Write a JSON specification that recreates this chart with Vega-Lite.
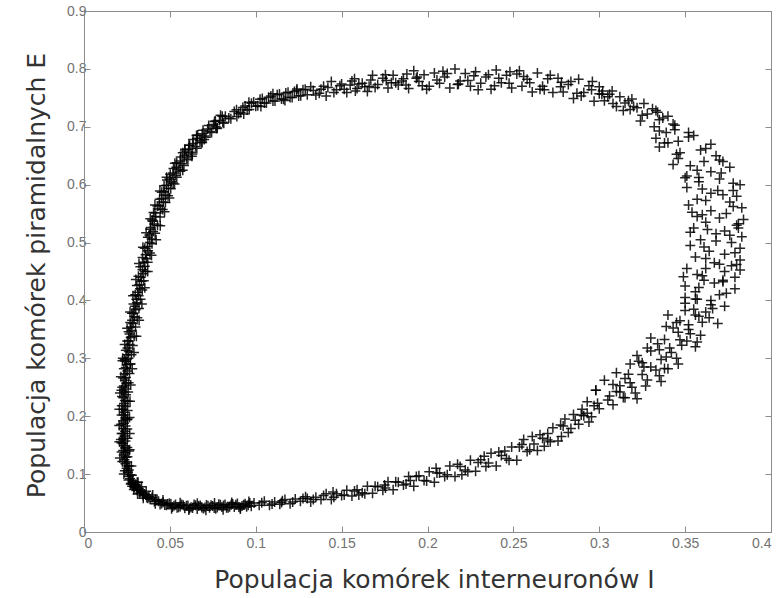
{
  "$schema": "https://vega.github.io/schema/vega-lite/v6.json",
  "width": 687,
  "height": 521,
  "autosize": {"type": "none"},
  "padding": {"left": 84, "top": 11, "right": 13, "bottom": 66},
  "background": "white",
  "config": {
    "view": {"stroke": null},
    "axis": {
      "grid": false,
      "domainColor": "#8c8c8c",
      "tickColor": "#8c8c8c",
      "tickSize": -6,
      "labelFont": "Liberation Sans",
      "labelFontSize": 14,
      "labelColor": "#727272",
      "titleFont": "DejaVu Sans",
      "titleFontSize": 25,
      "titleFontWeight": "normal",
      "titleColor": "#333333"
    }
  },
  "datasets": {
    "traj": [
      {"I":0.0290,"E":0.080},{"I":0.0275,"E":0.084},{"I":0.0282,"E":0.088},{"I":0.0268,"E":0.092},{"I":0.0262,"E":0.096},{"I":0.0271,"E":0.099},{"I":0.0255,"E":0.103},{"I":0.0261,"E":0.107},{"I":0.0248,"E":0.110},{"I":0.0252,"E":0.114},
      {"I":0.0241,"E":0.118},{"I":0.0249,"E":0.121},{"I":0.0236,"E":0.125},{"I":0.0244,"E":0.129},{"I":0.0231,"E":0.133},{"I":0.0240,"E":0.137},{"I":0.0228,"E":0.141},{"I":0.0238,"E":0.145},{"I":0.0233,"E":0.149},{"I":0.0226,"E":0.153},
      {"I":0.0241,"E":0.157},{"I":0.0230,"E":0.161},{"I":0.0236,"E":0.166},{"I":0.0225,"E":0.170},{"I":0.0239,"E":0.174},{"I":0.0229,"E":0.179},{"I":0.0242,"E":0.183},{"I":0.0232,"E":0.188},{"I":0.0227,"E":0.192},{"I":0.0240,"E":0.197},
      {"I":0.0231,"E":0.202},{"I":0.0237,"E":0.207},{"I":0.0226,"E":0.212},{"I":0.0243,"E":0.217},{"I":0.0233,"E":0.222},{"I":0.0238,"E":0.227},{"I":0.0229,"E":0.232},{"I":0.0245,"E":0.237},{"I":0.0235,"E":0.242},{"I":0.0241,"E":0.247},
      {"I":0.0232,"E":0.252},{"I":0.0247,"E":0.257},{"I":0.0238,"E":0.262},{"I":0.0244,"E":0.267},{"I":0.0236,"E":0.273},{"I":0.0252,"E":0.278},{"I":0.0243,"E":0.284},{"I":0.0249,"E":0.289},{"I":0.0241,"E":0.295},{"I":0.0258,"E":0.300},
      {"I":0.0250,"E":0.306},{"I":0.0261,"E":0.312},{"I":0.0253,"E":0.318},{"I":0.0266,"E":0.324},{"I":0.0259,"E":0.330},{"I":0.0272,"E":0.336},{"I":0.0265,"E":0.342},{"I":0.0279,"E":0.348},{"I":0.0273,"E":0.354},{"I":0.0286,"E":0.360},
      {"I":0.0280,"E":0.366},{"I":0.0293,"E":0.372},{"I":0.0288,"E":0.378},{"I":0.0301,"E":0.384},{"I":0.0296,"E":0.390},{"I":0.0309,"E":0.396},{"I":0.0305,"E":0.402},{"I":0.0318,"E":0.408},{"I":0.0313,"E":0.414},{"I":0.0326,"E":0.420},
      {"I":0.0322,"E":0.427},{"I":0.0335,"E":0.433},{"I":0.0331,"E":0.440},{"I":0.0344,"E":0.446},{"I":0.0340,"E":0.453},{"I":0.0354,"E":0.459},{"I":0.0349,"E":0.466},{"I":0.0363,"E":0.472},{"I":0.0359,"E":0.479},{"I":0.0373,"E":0.486},
      {"I":0.0369,"E":0.493},{"I":0.0383,"E":0.500},
      {"I":0.0215,"E":0.160},{"I":0.0254,"E":0.195},{"I":0.0218,"E":0.245},{"I":0.0262,"E":0.140},{"I":0.0270,"E":0.290},{"I":0.0226,"E":0.300},

      {"I":0.0301,"E":0.082},{"I":0.0259,"E":0.090},{"I":0.0279,"E":0.098},{"I":0.0238,"E":0.106},{"I":0.0262,"E":0.114},{"I":0.0223,"E":0.122},{"I":0.0253,"E":0.130},{"I":0.0219,"E":0.138},{"I":0.0252,"E":0.146},{"I":0.0218,"E":0.154},
      {"I":0.0253,"E":0.162},{"I":0.0219,"E":0.170},{"I":0.0252,"E":0.178},{"I":0.0217,"E":0.186},{"I":0.0251,"E":0.194},{"I":0.0219,"E":0.202},{"I":0.0254,"E":0.210},{"I":0.0220,"E":0.218},{"I":0.0255,"E":0.226},{"I":0.0221,"E":0.234},
      {"I":0.0257,"E":0.242},{"I":0.0223,"E":0.250},{"I":0.0260,"E":0.258},{"I":0.0228,"E":0.266},{"I":0.0265,"E":0.274},{"I":0.0232,"E":0.282},{"I":0.0270,"E":0.290},{"I":0.0237,"E":0.298},{"I":0.0276,"E":0.306},{"I":0.0244,"E":0.314},
      {"I":0.0284,"E":0.322},{"I":0.0252,"E":0.330},{"I":0.0292,"E":0.338},{"I":0.0260,"E":0.346},{"I":0.0300,"E":0.354},{"I":0.0269,"E":0.362},{"I":0.0310,"E":0.370},{"I":0.0279,"E":0.378},{"I":0.0320,"E":0.386},{"I":0.0288,"E":0.394},
      {"I":0.0329,"E":0.402},{"I":0.0298,"E":0.410},{"I":0.0339,"E":0.418},{"I":0.0308,"E":0.426},{"I":0.0348,"E":0.434},{"I":0.0317,"E":0.442},{"I":0.0358,"E":0.450},{"I":0.0328,"E":0.458},{"I":0.0371,"E":0.466},{"I":0.0341,"E":0.474},
      {"I":0.0384,"E":0.482},{"I":0.0354,"E":0.490},{"I":0.0396,"E":0.498},

      {"I":0.0310,"E":0.086},{"I":0.0232,"E":0.100},{"I":0.0276,"E":0.114},{"I":0.0209,"E":0.128},{"I":0.0266,"E":0.142},{"I":0.0206,"E":0.156},{"I":0.0266,"E":0.170},{"I":0.0205,"E":0.184},{"I":0.0265,"E":0.198},{"I":0.0206,"E":0.212},
      {"I":0.0268,"E":0.226},{"I":0.0209,"E":0.240},{"I":0.0272,"E":0.254},{"I":0.0215,"E":0.268},{"I":0.0281,"E":0.282},{"I":0.0224,"E":0.296},{"I":0.0291,"E":0.310},{"I":0.0237,"E":0.324},{"I":0.0305,"E":0.338},{"I":0.0251,"E":0.352},
      {"I":0.0321,"E":0.366},{"I":0.0268,"E":0.380},{"I":0.0337,"E":0.394},{"I":0.0285,"E":0.408},{"I":0.0354,"E":0.422},{"I":0.0302,"E":0.436},{"I":0.0371,"E":0.450},{"I":0.0320,"E":0.464},{"I":0.0393,"E":0.478},{"I":0.0343,"E":0.492},

      {"I":0.0394,"E":0.506},{"I":0.0381,"E":0.513},{"I":0.0402,"E":0.519},{"I":0.0389,"E":0.526},{"I":0.0409,"E":0.532},{"I":0.0397,"E":0.539},{"I":0.0418,"E":0.545},{"I":0.0405,"E":0.552},{"I":0.0447,"E":0.558},{"I":0.0437,"E":0.564},
      {"I":0.0462,"E":0.570},{"I":0.0452,"E":0.576},{"I":0.0476,"E":0.582},{"I":0.0466,"E":0.588},{"I":0.0492,"E":0.594},{"I":0.0480,"E":0.599},{"I":0.0508,"E":0.605},{"I":0.0497,"E":0.610},{"I":0.0531,"E":0.616},{"I":0.0518,"E":0.620},
      {"I":0.0552,"E":0.626},{"I":0.0538,"E":0.630},{"I":0.0572,"E":0.636},{"I":0.0560,"E":0.641},{"I":0.0597,"E":0.646},{"I":0.0585,"E":0.651},{"I":0.0623,"E":0.656},{"I":0.0609,"E":0.661},{"I":0.0649,"E":0.666},{"I":0.0634,"E":0.671},
      {"I":0.0675,"E":0.676},{"I":0.0658,"E":0.680},{"I":0.0701,"E":0.684},{"I":0.0688,"E":0.688},{"I":0.0734,"E":0.692},{"I":0.0720,"E":0.696},{"I":0.0767,"E":0.700},{"I":0.0754,"E":0.704},{"I":0.0808,"E":0.708},{"I":0.0789,"E":0.711},
      {"I":0.0843,"E":0.715},{"I":0.0823,"E":0.718},
      {"I":0.0875,"E":0.7265},{"I":0.0900,"E":0.7230},{"I":0.0925,"E":0.7335},{"I":0.0950,"E":0.7290},{"I":0.0975,"E":0.7405},{"I":0.1000,"E":0.7355},{"I":0.1025,"E":0.7475},{"I":0.1050,"E":0.7410},{"I":0.1075,"E":0.7510},{"I":0.1100,"E":0.7445},
      {"I":0.1125,"E":0.7555},{"I":0.1150,"E":0.7480},{"I":0.1175,"E":0.7585},{"I":0.1200,"E":0.7505},{"I":0.1225,"E":0.7610},{"I":0.1250,"E":0.7530},{"I":0.1275,"E":0.7640},{"I":0.1300,"E":0.7555},
      {"I":0.0615,"E":0.668},{"I":0.0700,"E":0.678},{"I":0.0795,"E":0.720},{"I":0.0930,"E":0.722},{"I":0.0575,"E":0.655},

      {"I":0.0372,"E":0.509},{"I":0.0414,"E":0.516},{"I":0.0386,"E":0.523},{"I":0.0428,"E":0.530},{"I":0.0399,"E":0.537},{"I":0.0443,"E":0.544},{"I":0.0413,"E":0.551},{"I":0.0458,"E":0.557},{"I":0.0427,"E":0.563},{"I":0.0474,"E":0.569},
      {"I":0.0440,"E":0.575},{"I":0.0489,"E":0.581},{"I":0.0453,"E":0.587},{"I":0.0505,"E":0.593},{"I":0.0466,"E":0.598},{"I":0.0519,"E":0.603},{"I":0.0483,"E":0.608},{"I":0.0540,"E":0.613},{"I":0.0502,"E":0.618},{"I":0.0561,"E":0.623},
      {"I":0.0521,"E":0.628},{"I":0.0582,"E":0.633},{"I":0.0540,"E":0.638},{"I":0.0605,"E":0.643},{"I":0.0563,"E":0.648},{"I":0.0631,"E":0.653},{"I":0.0587,"E":0.658},{"I":0.0657,"E":0.663},{"I":0.0611,"E":0.668},{"I":0.0683,"E":0.673},
      {"I":0.0635,"E":0.678},{"I":0.0710,"E":0.682},{"I":0.0662,"E":0.686},{"I":0.0743,"E":0.690},{"I":0.0693,"E":0.694},{"I":0.0776,"E":0.698},{"I":0.0726,"E":0.702},{"I":0.0814,"E":0.706},{"I":0.0765,"E":0.710},{"I":0.0855,"E":0.714},
      {"I":0.0805,"E":0.718},
      {"I":0.0888,"E":0.7295},{"I":0.0912,"E":0.7245},{"I":0.0938,"E":0.7360},{"I":0.0962,"E":0.7300},{"I":0.0988,"E":0.7430},{"I":0.1012,"E":0.7365},{"I":0.1038,"E":0.7490},{"I":0.1062,"E":0.7410},{"I":0.1088,"E":0.7530},{"I":0.1112,"E":0.7445},
      {"I":0.1138,"E":0.7565},{"I":0.1162,"E":0.7475},{"I":0.1188,"E":0.7595},{"I":0.1212,"E":0.7505},{"I":0.1238,"E":0.7625},{"I":0.1262,"E":0.7535},{"I":0.1288,"E":0.7650},

      {"I":0.0420,"E":0.505},{"I":0.0362,"E":0.517},{"I":0.0444,"E":0.529},{"I":0.0386,"E":0.541},{"I":0.0469,"E":0.553},{"I":0.0413,"E":0.565},{"I":0.0497,"E":0.577},{"I":0.0442,"E":0.589},{"I":0.0527,"E":0.601},{"I":0.0481,"E":0.613},
      {"I":0.0575,"E":0.625},{"I":0.0529,"E":0.637},{"I":0.0628,"E":0.649},{"I":0.0588,"E":0.661},{"I":0.0688,"E":0.673},{"I":0.0655,"E":0.685},{"I":0.0773,"E":0.697},{"I":0.0760,"E":0.709},
      {"I":0.0890,"E":0.7176},{"I":0.0960,"E":0.7424},{"I":0.1030,"E":0.7350},{"I":0.1100,"E":0.7570},{"I":0.1170,"E":0.7452},{"I":0.1240,"E":0.7654},

      {"I":0.132,"E":0.769},{"I":0.135,"E":0.755},{"I":0.138,"E":0.765},{"I":0.141,"E":0.753},{"I":0.144,"E":0.778},{"I":0.147,"E":0.764},{"I":0.150,"E":0.774},{"I":0.153,"E":0.759},{"I":0.156,"E":0.779},{"I":0.159,"E":0.766},
      {"I":0.162,"E":0.775},{"I":0.165,"E":0.761},{"I":0.168,"E":0.789},{"I":0.171,"E":0.773},{"I":0.174,"E":0.784},{"I":0.177,"E":0.767},{"I":0.180,"E":0.789},{"I":0.183,"E":0.772},{"I":0.186,"E":0.783},{"I":0.189,"E":0.766},
      {"I":0.192,"E":0.797},{"I":0.195,"E":0.778},{"I":0.198,"E":0.790},{"I":0.201,"E":0.770},{"I":0.204,"E":0.793},{"I":0.207,"E":0.775},{"I":0.210,"E":0.786},{"I":0.213,"E":0.767},{"I":0.216,"E":0.800},{"I":0.219,"E":0.779},
      {"I":0.222,"E":0.792},{"I":0.225,"E":0.770},{"I":0.228,"E":0.795},{"I":0.231,"E":0.775},{"I":0.234,"E":0.786},{"I":0.237,"E":0.765},{"I":0.240,"E":0.798},{"I":0.243,"E":0.776},{"I":0.246,"E":0.789},{"I":0.249,"E":0.767},
      {"I":0.252,"E":0.791},{"I":0.255,"E":0.770},{"I":0.258,"E":0.782},{"I":0.261,"E":0.760},{"I":0.264,"E":0.793},{"I":0.267,"E":0.770},{"I":0.270,"E":0.783},{"I":0.273,"E":0.759},{"I":0.276,"E":0.784},{"I":0.279,"E":0.760},
      {"I":0.282,"E":0.773},{"I":0.285,"E":0.749},{"I":0.288,"E":0.782},{"I":0.291,"E":0.759},{"I":0.294,"E":0.771},{"I":0.297,"E":0.744},{"I":0.300,"E":0.769},{"I":0.303,"E":0.745},{"I":0.306,"E":0.756},
      {"I":0.137,"E":0.758},{"I":0.149,"E":0.771},{"I":0.158,"E":0.762},{"I":0.167,"E":0.781},{"I":0.179,"E":0.776},{"I":0.188,"E":0.791},{"I":0.197,"E":0.771},{"I":0.209,"E":0.796},{"I":0.218,"E":0.774},{"I":0.227,"E":0.788},
      {"I":0.239,"E":0.771},{"I":0.248,"E":0.795},{"I":0.256,"E":0.787},{"I":0.268,"E":0.764},{"I":0.278,"E":0.777},{"I":0.287,"E":0.758},{"I":0.296,"E":0.778},{"I":0.302,"E":0.762},{"I":0.160,"E":0.774},{"I":0.185,"E":0.779},
      {"I":0.1335,"E":0.7625},{"I":0.1395,"E":0.7700},{"I":0.1455,"E":0.7590},{"I":0.1515,"E":0.7650},{"I":0.1575,"E":0.7830},{"I":0.1635,"E":0.7690},{"I":0.1695,"E":0.7680},{"I":0.1755,"E":0.7900},{"I":0.1815,"E":0.7760},{"I":0.1875,"E":0.7720},
      {"I":0.1935,"E":0.7840},{"I":0.1995,"E":0.7650},{"I":0.2055,"E":0.7810},{"I":0.2115,"E":0.7920},{"I":0.2175,"E":0.7730},{"I":0.2235,"E":0.7800},{"I":0.2295,"E":0.7640},{"I":0.2355,"E":0.7900},{"I":0.2415,"E":0.7840},{"I":0.2475,"E":0.7750},
      {"I":0.2535,"E":0.7970},{"I":0.2595,"E":0.7760},{"I":0.2655,"E":0.7650},{"I":0.2715,"E":0.7890},{"I":0.2775,"E":0.7690},{"I":0.2835,"E":0.7780},{"I":0.2895,"E":0.7530},{"I":0.2955,"E":0.7640},{"I":0.3015,"E":0.7560},{"I":0.3075,"E":0.7620},
      {"I":0.142,"E":0.768},{"I":0.155,"E":0.772},{"I":0.166,"E":0.770},{"I":0.176,"E":0.780},{"I":0.194,"E":0.786},

      {"I":0.317,"E":0.745},{"I":0.308,"E":0.740},{"I":0.320,"E":0.735},{"I":0.318,"E":0.730},{"I":0.334,"E":0.725},{"I":0.325,"E":0.720},{"I":0.337,"E":0.715},{"I":0.324,"E":0.710},{"I":0.343,"E":0.705},{"I":0.332,"E":0.700},
      {"I":0.344,"E":0.695},{"I":0.339,"E":0.690},{"I":0.355,"E":0.685},{"I":0.333,"E":0.680},{"I":0.346,"E":0.675},{"I":0.365,"E":0.670},{"I":0.335,"E":0.665},{"I":0.359,"E":0.660},{"I":0.347,"E":0.655},{"I":0.368,"E":0.650},
      {"I":0.346,"E":0.645},{"I":0.361,"E":0.640},{"I":0.343,"E":0.635},{"I":0.376,"E":0.630},{"I":0.357,"E":0.625},{"I":0.371,"E":0.620},{"I":0.351,"E":0.615},{"I":0.370,"E":0.610},{"I":0.358,"E":0.605},{"I":0.382,"E":0.600},
      {"I":0.351,"E":0.595},{"I":0.369,"E":0.590},{"I":0.365,"E":0.585},{"I":0.380,"E":0.580},{"I":0.357,"E":0.575},{"I":0.376,"E":0.570},{"I":0.352,"E":0.565},{"I":0.383,"E":0.560},{"I":0.365,"E":0.555},{"I":0.374,"E":0.550},
      {"I":0.357,"E":0.545},{"I":0.384,"E":0.540},{"I":0.362,"E":0.535},{"I":0.380,"E":0.530},{"I":0.355,"E":0.525},{"I":0.373,"E":0.520},{"I":0.368,"E":0.515},{"I":0.383,"E":0.510},{"I":0.359,"E":0.505},{"I":0.377,"E":0.500},
      {"I":0.353,"E":0.495},{"I":0.382,"E":0.490},{"I":0.364,"E":0.485},{"I":0.373,"E":0.480},{"I":0.356,"E":0.475},{"I":0.382,"E":0.470},{"I":0.367,"E":0.465},{"I":0.377,"E":0.460},{"I":0.351,"E":0.455},{"I":0.373,"E":0.450},
      {"I":0.357,"E":0.445},{"I":0.379,"E":0.440},{"I":0.361,"E":0.435},{"I":0.367,"E":0.430},{"I":0.350,"E":0.425},{"I":0.379,"E":0.420},{"I":0.356,"E":0.415},{"I":0.370,"E":0.410},{"I":0.350,"E":0.405},{"I":0.365,"E":0.400},
      {"I":0.333,"E":0.728},{"I":0.310,"E":0.735},{"I":0.352,"E":0.690},{"I":0.338,"E":0.672},{"I":0.372,"E":0.640},{"I":0.350,"E":0.612},{"I":0.378,"E":0.590},{"I":0.360,"E":0.548},{"I":0.381,"E":0.525},{"I":0.353,"E":0.518},
      {"I":0.380,"E":0.462},{"I":0.362,"E":0.455},{"I":0.372,"E":0.435},{"I":0.349,"E":0.441},{"I":0.357,"E":0.402},
      {"I":0.3440,"E":0.7025},{"I":0.3350,"E":0.6925},{"I":0.3520,"E":0.6825},{"I":0.3400,"E":0.6725},{"I":0.3620,"E":0.6625},{"I":0.3450,"E":0.6525},{"I":0.3700,"E":0.6425},{"I":0.3530,"E":0.6325},{"I":0.3650,"E":0.6225},{"I":0.3580,"E":0.6125},
      {"I":0.3780,"E":0.6025},{"I":0.3600,"E":0.5925},{"I":0.3720,"E":0.5825},{"I":0.3620,"E":0.5725},{"I":0.3780,"E":0.5625},{"I":0.3540,"E":0.5525},{"I":0.3700,"E":0.5425},{"I":0.3810,"E":0.5325},{"I":0.3630,"E":0.5225},{"I":0.3760,"E":0.5125},
      {"I":0.3680,"E":0.5025},{"I":0.3610,"E":0.4925},{"I":0.3790,"E":0.4825},{"I":0.3620,"E":0.4725},{"I":0.3700,"E":0.4625},{"I":0.3820,"E":0.4525},{"I":0.3600,"E":0.4425},{"I":0.3720,"E":0.4325},{"I":0.3580,"E":0.4225},{"I":0.3740,"E":0.4125},
      {"I":0.3560,"E":0.4025},
      {"I":0.312,"E":0.752},{"I":0.315,"E":0.741},{"I":0.319,"E":0.748},{"I":0.322,"E":0.733},{"I":0.326,"E":0.740},{"I":0.328,"E":0.722},{"I":0.331,"E":0.731},{"I":0.335,"E":0.712},{"I":0.340,"E":0.718},{"I":0.314,"E":0.728},
      {"I":0.305,"E":0.752},{"I":0.300,"E":0.757},

      {"I":0.350,"E":0.395},{"I":0.373,"E":0.390},{"I":0.355,"E":0.385},{"I":0.362,"E":0.380},{"I":0.340,"E":0.375},{"I":0.364,"E":0.370},{"I":0.347,"E":0.365},{"I":0.369,"E":0.360},{"I":0.339,"E":0.355},{"I":0.352,"E":0.350},
      {"I":0.346,"E":0.345},{"I":0.359,"E":0.340},{"I":0.330,"E":0.335},{"I":0.351,"E":0.330},{"I":0.334,"E":0.325},{"I":0.356,"E":0.320},{"I":0.335,"E":0.315},{"I":0.342,"E":0.310},{"I":0.322,"E":0.305},{"I":0.345,"E":0.300},
      {"I":0.323,"E":0.295},{"I":0.346,"E":0.290},{"I":0.326,"E":0.285},{"I":0.333,"E":0.280},{"I":0.310,"E":0.275},{"I":0.335,"E":0.270},{"I":0.315,"E":0.265},{"I":0.336,"E":0.260},{"I":0.308,"E":0.255},{"I":0.319,"E":0.250},
      {"I":0.298,"E":0.245},{"I":0.321,"E":0.240},{"I":0.306,"E":0.235},{"I":0.322,"E":0.230},{"I":0.293,"E":0.225},{"I":0.308,"E":0.220},
      {"I":0.366,"E":0.386},{"I":0.345,"E":0.362},{"I":0.357,"E":0.328},{"I":0.328,"E":0.318},{"I":0.340,"E":0.282},{"I":0.318,"E":0.290},{"I":0.327,"E":0.252},{"I":0.303,"E":0.262},{"I":0.315,"E":0.232},{"I":0.298,"E":0.245},
      {"I":0.3650,"E":0.3925},{"I":0.3500,"E":0.3825},{"I":0.3580,"E":0.3725},{"I":0.3600,"E":0.3625},{"I":0.3430,"E":0.3525},{"I":0.3530,"E":0.3425},{"I":0.3380,"E":0.3325},{"I":0.3480,"E":0.3225},{"I":0.3300,"E":0.3125},{"I":0.3390,"E":0.3025},
      {"I":0.3250,"E":0.2925},{"I":0.3380,"E":0.2825},{"I":0.3170,"E":0.2725},{"I":0.3280,"E":0.2625},{"I":0.3120,"E":0.2525},{"I":0.3100,"E":0.2425},{"I":0.3140,"E":0.2325},{"I":0.2990,"E":0.2225},
      {"I":0.262,"E":0.152},{"I":0.270,"E":0.170},{"I":0.278,"E":0.165},{"I":0.286,"E":0.193},{"I":0.293,"E":0.205},{"I":0.300,"E":0.213},{"I":0.305,"E":0.228},{"I":0.312,"E":0.242},{"I":0.318,"E":0.258},{"I":0.325,"E":0.272},
      {"I":0.330,"E":0.285},{"I":0.336,"E":0.298},{"I":0.341,"E":0.318},{"I":0.347,"E":0.332},{"I":0.352,"E":0.358},{"I":0.356,"E":0.375},

      {"I":0.297,"E":0.218},{"I":0.294,"E":0.190},{"I":0.291,"E":0.201},{"I":0.288,"E":0.186},{"I":0.285,"E":0.203},{"I":0.282,"E":0.172},{"I":0.279,"E":0.183},{"I":0.276,"E":0.157},{"I":0.273,"E":0.180},{"I":0.270,"E":0.159},
      {"I":0.267,"E":0.162},{"I":0.264,"E":0.141},{"I":0.261,"E":0.165},{"I":0.258,"E":0.139},{"I":0.255,"E":0.151},{"I":0.252,"E":0.124},{"I":0.249,"E":0.147},{"I":0.246,"E":0.127},{"I":0.243,"E":0.132},{"I":0.240,"E":0.114},
      {"I":0.237,"E":0.136},{"I":0.234,"E":0.113},{"I":0.231,"E":0.125},{"I":0.228,"E":0.105},{"I":0.225,"E":0.124},{"I":0.222,"E":0.107},{"I":0.219,"E":0.113},{"I":0.216,"E":0.096},{"I":0.213,"E":0.114},{"I":0.210,"E":0.096},
      {"I":0.207,"E":0.102},{"I":0.204,"E":0.086},{"I":0.201,"E":0.104},{"I":0.198,"E":0.089},{"I":0.195,"E":0.097},{"I":0.192,"E":0.079},{"I":0.189,"E":0.096},{"I":0.186,"E":0.081},{"I":0.183,"E":0.086},{"I":0.180,"E":0.073},
      {"I":0.177,"E":0.087},{"I":0.174,"E":0.072},{"I":0.171,"E":0.078},{"I":0.168,"E":0.067},{"I":0.165,"E":0.079},{"I":0.162,"E":0.068},{"I":0.159,"E":0.073},{"I":0.156,"E":0.062},{"I":0.153,"E":0.072},{"I":0.150,"E":0.063},
      {"I":0.147,"E":0.066},{"I":0.144,"E":0.056},{"I":0.141,"E":0.066},{"I":0.138,"E":0.056},{"I":0.135,"E":0.060},{"I":0.132,"E":0.052},{"I":0.129,"E":0.061},{"I":0.126,"E":0.053},{"I":0.123,"E":0.057},{"I":0.120,"E":0.049},
      {"I":0.117,"E":0.056},{"I":0.114,"E":0.048},{"I":0.111,"E":0.052},{"I":0.108,"E":0.046},{"I":0.105,"E":0.053},{"I":0.102,"E":0.046},{"I":0.099,"E":0.050},
      {"I":0.290,"E":0.212},{"I":0.280,"E":0.195},{"I":0.268,"E":0.148},{"I":0.256,"E":0.160},{"I":0.245,"E":0.140},{"I":0.233,"E":0.131},{"I":0.220,"E":0.099},{"I":0.205,"E":0.110},{"I":0.190,"E":0.089},{"I":0.175,"E":0.081},
      {"I":0.160,"E":0.064},{"I":0.145,"E":0.069},{"I":0.130,"E":0.058},{"I":0.115,"E":0.051},
      {"I":0.2955,"E":0.1990},{"I":0.2895,"E":0.2020},{"I":0.2835,"E":0.1790},{"I":0.2775,"E":0.1850},{"I":0.2715,"E":0.1560},{"I":0.2655,"E":0.1680},{"I":0.2595,"E":0.1420},{"I":0.2535,"E":0.1470},{"I":0.2475,"E":0.1240},{"I":0.2415,"E":0.1380},
      {"I":0.2355,"E":0.1190},{"I":0.2295,"E":0.1200},{"I":0.2235,"E":0.1040},{"I":0.2175,"E":0.1170},{"I":0.2115,"E":0.0990},{"I":0.2055,"E":0.1020},{"I":0.1995,"E":0.0880},{"I":0.1935,"E":0.0960},{"I":0.1875,"E":0.0830},{"I":0.1815,"E":0.0870},
      {"I":0.1755,"E":0.0760},{"I":0.1695,"E":0.0790},{"I":0.1635,"E":0.0660},{"I":0.1575,"E":0.0710},{"I":0.1515,"E":0.0640},{"I":0.1455,"E":0.0600},{"I":0.1395,"E":0.0630},{"I":0.1335,"E":0.0560},{"I":0.1275,"E":0.0580},{"I":0.1215,"E":0.0520},
      {"I":0.1155,"E":0.0540},{"I":0.1095,"E":0.0485},{"I":0.1035,"E":0.0505},

      {"I":0.0965,"E":0.0499},{"I":0.0947,"E":0.0435},{"I":0.0929,"E":0.0471},{"I":0.0911,"E":0.0417},{"I":0.0893,"E":0.0494},{"I":0.0875,"E":0.0431},{"I":0.0857,"E":0.0469},{"I":0.0839,"E":0.0417},{"I":0.0821,"E":0.0475},{"I":0.0803,"E":0.0432},
      {"I":0.0785,"E":0.0481},{"I":0.0767,"E":0.0400},{"I":0.0749,"E":0.0449},{"I":0.0731,"E":0.0418},{"I":0.0713,"E":0.0467},{"I":0.0695,"E":0.0406},{"I":0.0677,"E":0.0456},{"I":0.0659,"E":0.0397},{"I":0.0641,"E":0.0477},{"I":0.0623,"E":0.0428},
      {"I":0.0605,"E":0.0459},{"I":0.0587,"E":0.0411},{"I":0.0569,"E":0.0474},{"I":0.0551,"E":0.0428},{"I":0.0533,"E":0.0474},{"I":0.0515,"E":0.0430},{"I":0.0497,"E":0.0497},{"I":0.0479,"E":0.0460},{"I":0.0461,"E":0.0512},{"I":0.0443,"E":0.0477},
      {"I":0.0425,"E":0.0548},{"I":0.0410,"E":0.0526},{"I":0.0396,"E":0.0595},
      {"I":0.0385,"E":0.0565},{"I":0.0378,"E":0.0610},{"I":0.0365,"E":0.0598},{"I":0.0360,"E":0.0640},{"I":0.0345,"E":0.0628},{"I":0.0342,"E":0.0680},{"I":0.0325,"E":0.0668},{"I":0.0325,"E":0.0725},{"I":0.0308,"E":0.0720},{"I":0.0312,"E":0.0775},
      {"I":0.0293,"E":0.0770},{"I":0.0298,"E":0.0820},{"I":0.0280,"E":0.0790},{"I":0.0288,"E":0.0855},
      {"I":0.0956,"E":0.0462},{"I":0.0920,"E":0.0448},{"I":0.0884,"E":0.0470},{"I":0.0848,"E":0.0437},{"I":0.0812,"E":0.0458},{"I":0.0776,"E":0.0425},{"I":0.0740,"E":0.0462},{"I":0.0704,"E":0.0424},{"I":0.0668,"E":0.0450},{"I":0.0632,"E":0.0415},
      {"I":0.0596,"E":0.0452},{"I":0.0560,"E":0.0439},{"I":0.0524,"E":0.0452},{"I":0.0488,"E":0.0484},{"I":0.0452,"E":0.0494},
      {"I":0.0974,"E":0.0445},{"I":0.0938,"E":0.0490},{"I":0.0902,"E":0.0430},{"I":0.0866,"E":0.0482},{"I":0.0830,"E":0.0420},{"I":0.0794,"E":0.0470},{"I":0.0758,"E":0.0413},{"I":0.0722,"E":0.0455},{"I":0.0686,"E":0.0425},{"I":0.0650,"E":0.0462},
      {"I":0.0614,"E":0.0405},{"I":0.0578,"E":0.0460},{"I":0.0542,"E":0.0420},{"I":0.0506,"E":0.0482},{"I":0.0470,"E":0.0465},{"I":0.0434,"E":0.0530},{"I":0.0416,"E":0.0560},
      {"I":0.0372,"E":0.0585},{"I":0.0352,"E":0.0655},{"I":0.0330,"E":0.0700},{"I":0.0318,"E":0.0750},{"I":0.0302,"E":0.0800},{"I":0.0283,"E":0.0830},
      {"I":0.0960,"E":0.0528},{"I":0.0910,"E":0.0397},{"I":0.0860,"E":0.0510},{"I":0.0810,"E":0.0383},{"I":0.0760,"E":0.0500},{"I":0.0710,"E":0.0377},{"I":0.0660,"E":0.0496},{"I":0.0610,"E":0.0379},{"I":0.0560,"E":0.0506},{"I":0.0510,"E":0.0402},
      {"I":0.0460,"E":0.0553},{"I":0.0415,"E":0.0490},
      {"I":0.0345,"E":0.0585},{"I":0.0312,"E":0.0655},{"I":0.0290,"E":0.0735},{"I":0.0272,"E":0.0830},{"I":0.0400,"E":0.0640},{"I":0.0362,"E":0.0705},{"I":0.0335,"E":0.0780},{"I":0.0315,"E":0.0860}
    ]
  },
  "data": {"name": "traj"},
  "layer": [
    {
      "mark": {
        "type": "point",
        "shape": "M-1,0H1M0,-1V1",
        "filled": false,
        "size": 100,
        "strokeWidth": 1.5,
        "color": "#000000",
        "opacity": 0.85
      },
      "encoding": {
        "x": {
          "field": "I",
          "type": "quantitative",
          "scale": {"domain": [0, 0.4], "nice": false, "zero": false},
          "axis": {
            "orient": "bottom",
            "values": [0, 0.05, 0.1, 0.15, 0.2, 0.25, 0.3, 0.35, 0.4],
            "format": ".2~f",
            "labelPadding": 10,
            "title": "Populacja komórek interneuronów I",
            "titleX": 350,
            "titleY": 55,
            "titleBaseline": "alphabetic",
            "titleAlign": "center"
          }
        },
        "y": {
          "field": "E",
          "type": "quantitative",
          "scale": {"domain": [0, 0.9], "nice": false, "zero": false},
          "axis": {
            "orient": "left",
            "values": [0, 0.1, 0.2, 0.3, 0.4, 0.5, 0.6, 0.7, 0.8, 0.9],
            "format": ".1~f",
            "labelPadding": 4,
            "title": "Populacja komórek piramidalnych E",
            "titleAngle": -90,
            "titleX": -40,
            "titleY": 264,
            "titleBaseline": "alphabetic",
            "titleAlign": "center"
          }
        }
      }
    },
    {
      "mark": {"type": "point", "opacity": 0},
      "encoding": {
        "x": {
          "field": "I",
          "type": "quantitative",
          "axis": {
            "orient": "top",
            "values": [0, 0.05, 0.1, 0.15, 0.2, 0.25, 0.3, 0.35, 0.4],
            "labels": false,
            "title": null
          }
        },
        "y": {
          "field": "E",
          "type": "quantitative",
          "axis": {
            "orient": "right",
            "values": [0, 0.1, 0.2, 0.3, 0.4, 0.5, 0.6, 0.7, 0.8, 0.9],
            "labels": false,
            "title": null
          }
        }
      }
    }
  ],
  "resolve": {"axis": {"x": "independent", "y": "independent"}}
}
